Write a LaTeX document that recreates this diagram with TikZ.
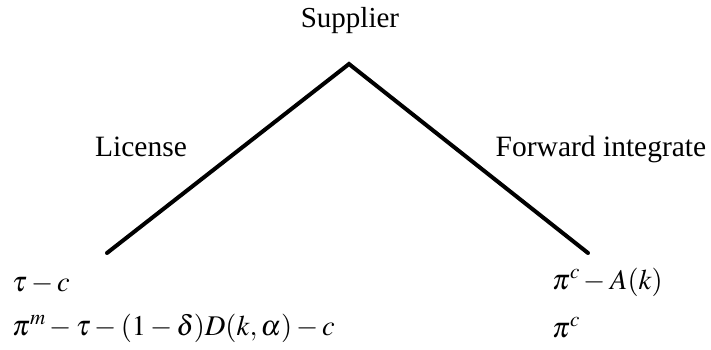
\documentclass[tikz,border=0pt]{standalone}
\usepackage{mathptmx}
\usepackage[no-math]{fontspec}
\setmainfont{Liberation Serif}
\usepackage{tikz}
\usetikzlibrary{positioning}

\begin{document}
\begin{tikzpicture}[x=1pt, y=-1pt,
    player/.style={font=\fontsize{29}{34}\selectfont, inner sep=0pt, anchor=base},
    move/.style={font=\fontsize{29.5}{34}\selectfont, inner sep=0pt, anchor=base},
    payoff/.style={font=\fontsize{28.5}{34}\selectfont, inner sep=0pt, anchor=base west},
    branch/.style={line width=4pt, line cap=round, line join=miter}
]
    \useasboundingbox (0,0) rectangle (711,350);

    % === Tree ===
    \coordinate (root) at (349, 64);
    \coordinate (lic) at (107, 253);
    \coordinate (fwd) at (588, 253);
    \draw[branch] (lic) -- (root) -- (fwd);

    \node[player] (supplier) at (350, 28) {Supplier};
    \node[move] (license) at (141, 156) {License};
    \node[move] (forward) at (601, 156) {Forward integrate};

    % === Payoffs ===
    \node[payoff] (licsup) at (12, 291) {$\tau-c$};
    \node[payoff] (licbuy) at (12, 335) {$\pi^m-\tau-(1-\delta)D(k,\alpha)-c$};
    \node[payoff] (fwdsup) at (552, 289) {$\pi^c-A(k)$};
    \node[payoff] (fwdbuy) at (552, 337) {$\pi^c$};
\end{tikzpicture}
\end{document}
